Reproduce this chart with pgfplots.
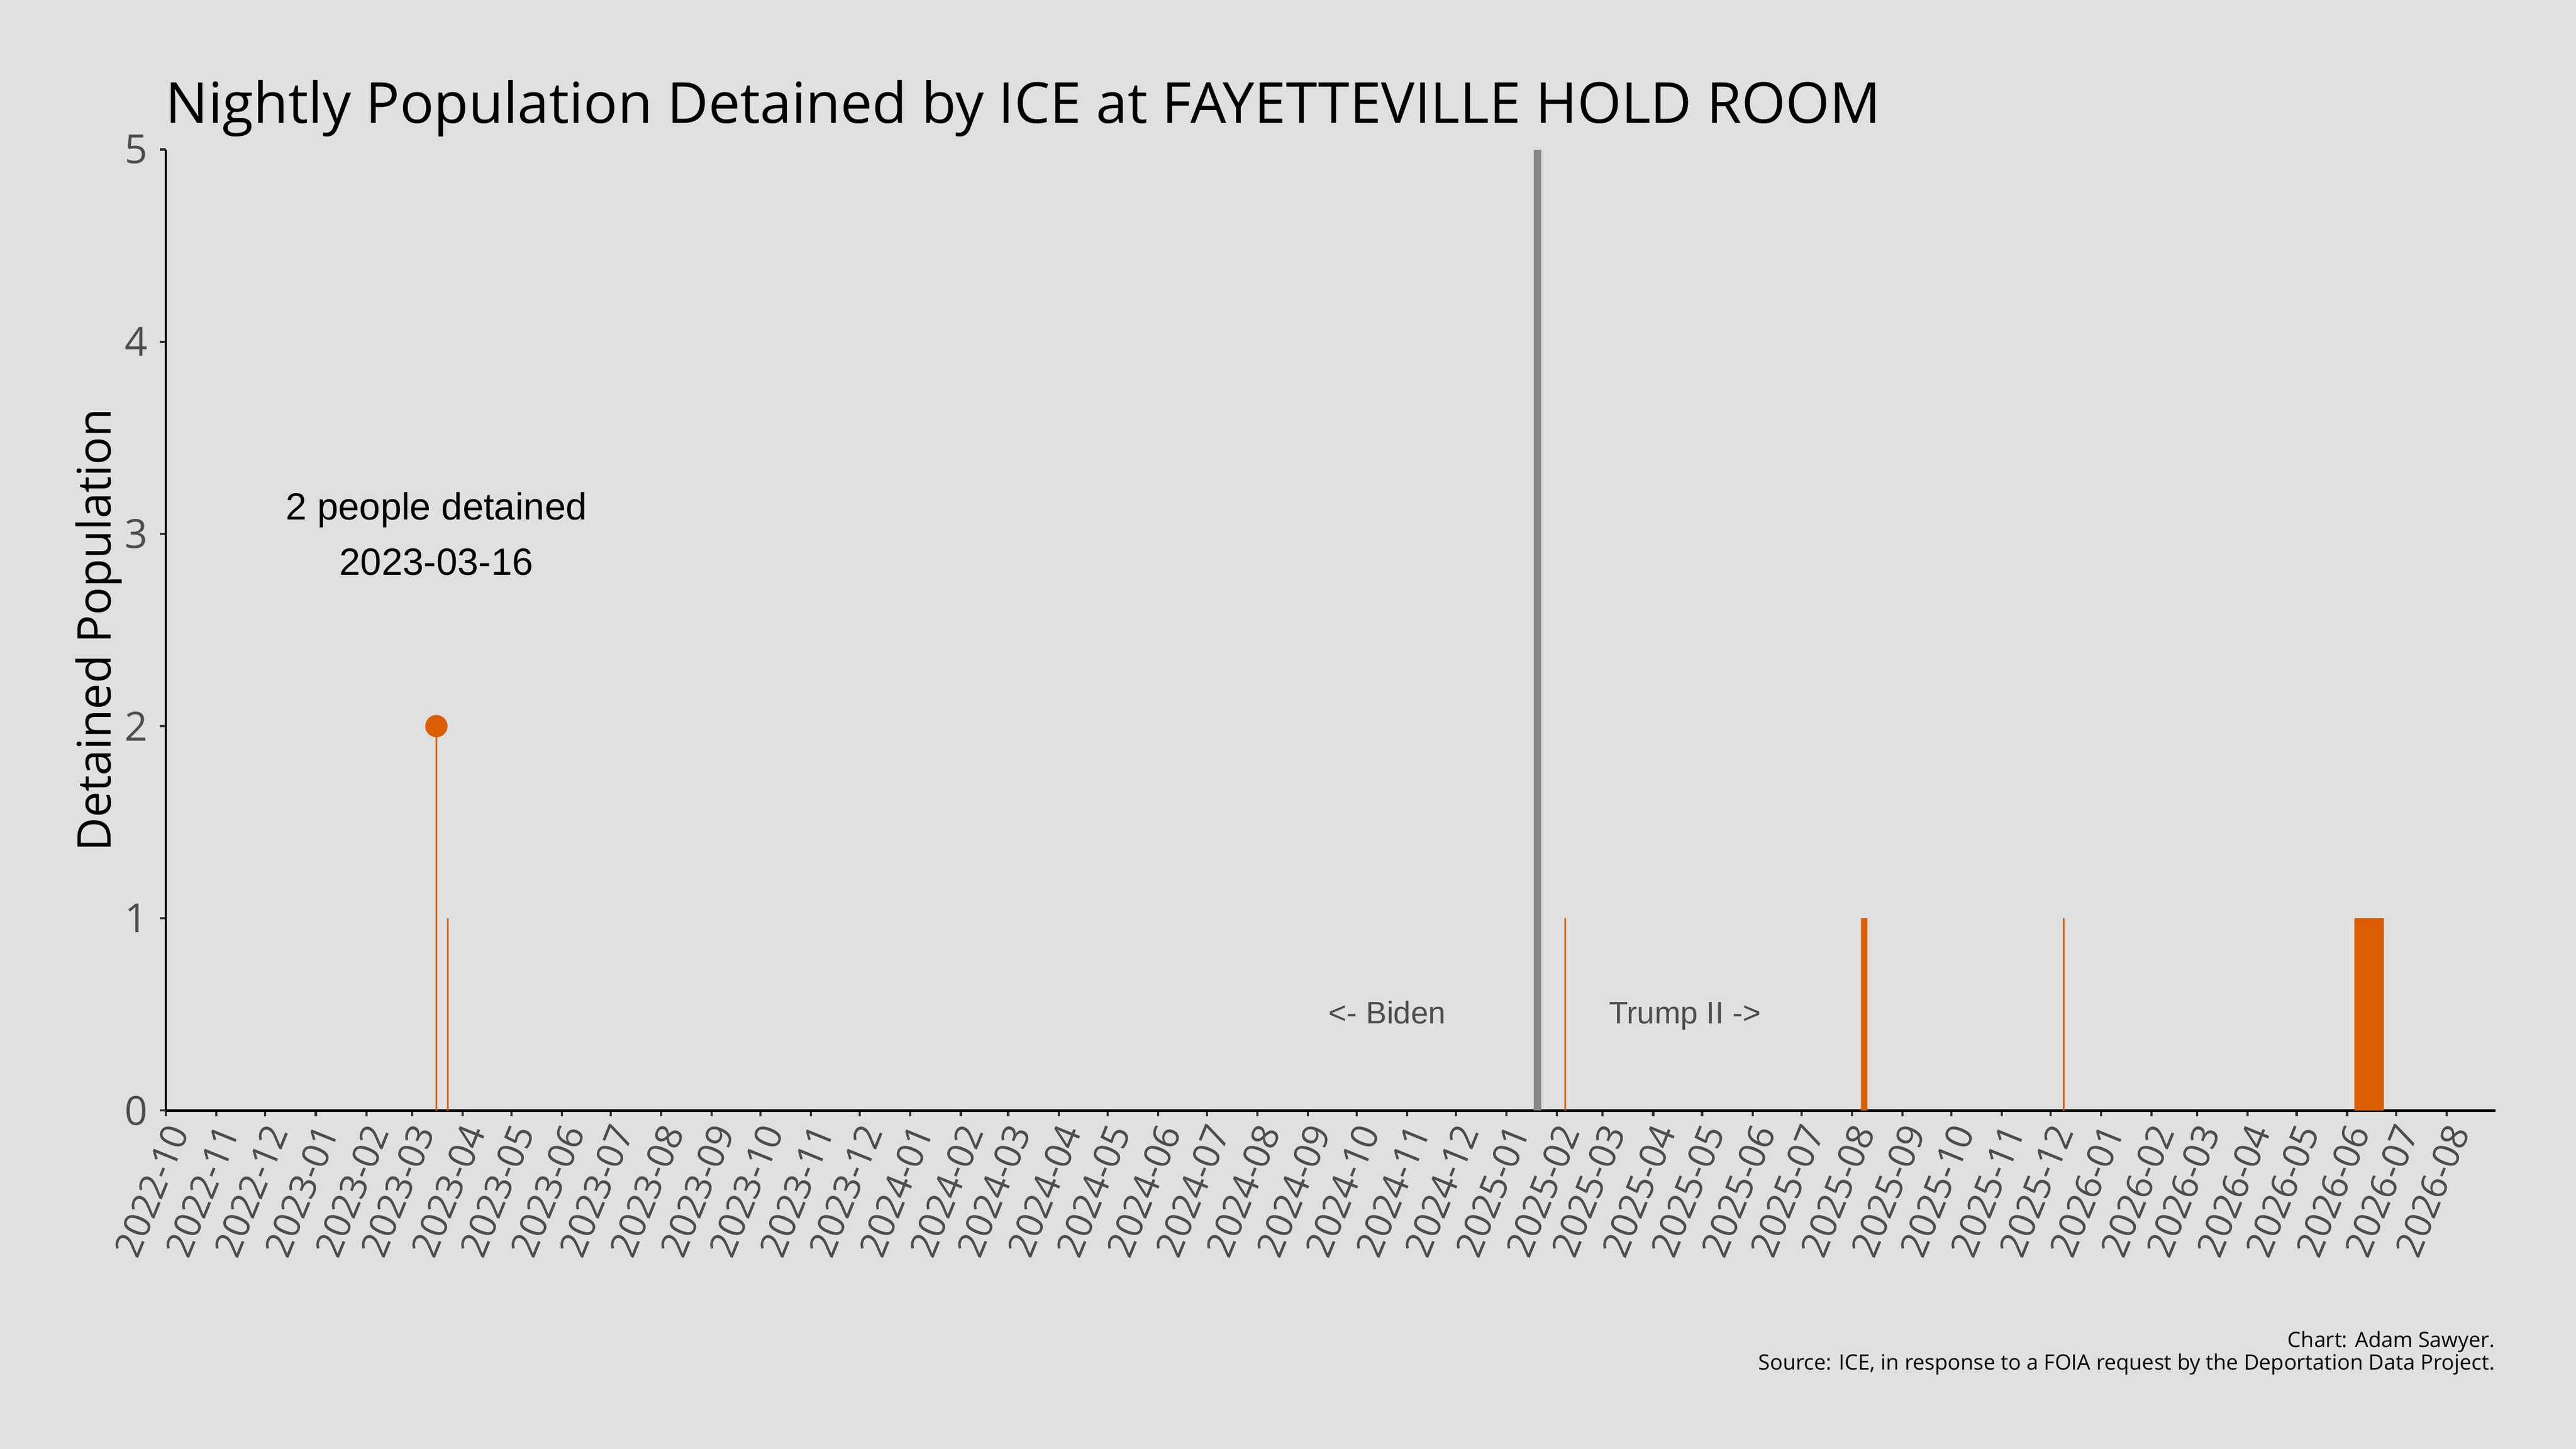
\documentclass[border=0pt]{standalone}
\usepackage{fontspec}
\setmainfont{Open Sans}
\newfontfamily\arialfont{Liberation Sans}
\usepackage{pgfplots}
\pgfplotsset{compat=1.18}
\definecolor{bgc}{HTML}{E0E0E0}
\definecolor{barc}{HTML}{D95F02}
\definecolor{tickgray}{HTML}{4D4D4D}
\definecolor{vline}{HTML}{878787}

\begin{document}
\begin{tikzpicture}
\fill[bgc] (-74.5pt,-151.9pt) rectangle (1081.8pt,498.5pt);
\begin{axis}[
  at={(0,0)}, anchor=south west,
  scale only axis, width=1045.6pt, height=431.4pt,
  xmin=0, xmax=1430, ymin=0, ymax=5,
  clip=false,
  axis x line*=bottom, axis y line*=left,
  axis line style={black, line width=1.05pt},
  tick align=outside, major tick length=2.6pt,
  tick style={black!80, line width=1pt},
  /pgf/number format/assume math mode=true,
  ytick={0,1,2,3,4,5},
  yticklabel style={inner sep=0pt, xshift=-5.3pt, font=\fontsize{18}{18}\selectfont, text=tickgray},
  xtick={0,31,61,92,123,151,182,212,243,273,304,335,365,396,426,457,488,517,548,578,609,639,670,701,731,762,792,823,854,882,913,943,974,1004,1035,1066,1096,1127,1157,1188,1219,1247,1278,1308,1339,1369,1400},
  xticklabels={2022-10,2022-11,2022-12,2023-01,2023-02,2023-03,2023-04,2023-05,2023-06,2023-07,2023-08,2023-09,2023-10,2023-11,2023-12,2024-01,2024-02,2024-03,2024-04,2024-05,2024-06,2024-07,2024-08,2024-09,2024-10,2024-11,2024-12,2025-01,2025-02,2025-03,2025-04,2025-05,2025-06,2025-07,2025-08,2025-09,2025-10,2025-11,2025-12,2026-01,2026-02,2026-03,2026-04,2026-05,2026-06,2026-07,2026-08},
  xticklabel style={inner sep=0pt, xshift=5.2pt, yshift=-4.5pt, rotate=68, anchor=east, font=\fontsize{16.5}{16.5}\selectfont, text=tickgray},
  title={Nightly Population Detained by ICE at FAYETTEVILLE HOLD ROOM},
  every axis title/.style={at={(axis description cs:0,1)}, anchor=base west, xshift=-3.7pt, yshift=11.8pt, font=\fontsize{25.4}{25.4}\selectfont},
  ylabel={Detained Population},
  every axis y label/.style={at={(axis description cs:-0.0289,0.5)}, rotate=90, anchor=center, font=\fontsize{20.8}{20.8}\selectfont},
]
% nightly counts, one bar per day (x = days since 2022-10-01)
\addplot[ybar interval, fill=barc, draw=none] coordinates {
  (165.5,2) (166.5,0) (172.5,1) (173.5,0)
  (858.5,1) (859.5,0) (1040.5,1) (1044.5,0)
  (1164.5,1) (1165.5,0) (1343.5,1) (1361.5,0)
};
% 2025-01-20
\addplot[vline, line width=3.4pt] coordinates {(842,0) (842,5)};
% peak
\addplot[only marks, mark=*, mark size=4.8pt, color=barc] coordinates {(166,2)};

\node[font=\arialfont\fontsize{17}{25}\selectfont, align=center] at (axis cs:166,3.0) {2 people detained\\2023-03-16};
\node[font=\arialfont\fontsize{14}{14}\selectfont, text=tickgray, anchor=east] at (axis cs:790.5,0.51) {<- Biden};
\node[font=\arialfont\fontsize{14}{14}\selectfont, text=tickgray, anchor=west] at (axis cs:881,0.49) {Trump II ->};

\node[anchor=base east, inner sep=0pt, yshift=-106.2pt, font=\fontsize{9.5}{11}\selectfont] at (rel axis cs:1,0) {Chart: Adam Sawyer.};
\node[anchor=base east, inner sep=0pt, yshift=-116.5pt, font=\fontsize{9.5}{11}\selectfont] at (rel axis cs:1,0) {Source: ICE, in response to a FOIA request by the Deportation Data Project.};
\end{axis}
\pgfresetboundingbox
\path (-74.5pt,-151.9pt) rectangle (1081.8pt,498.5pt);
\end{tikzpicture}
\end{document}
